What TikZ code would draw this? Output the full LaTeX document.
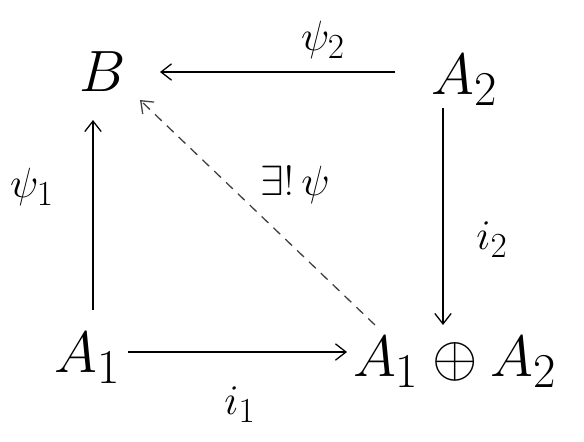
\documentclass[tikz,border=0pt]{standalone}
\usepackage{amsmath,amssymb}
\usetikzlibrary{arrows.meta}
\begin{document}
\begin{tikzpicture}[x=0.03cm,y=-0.03cm,
  obj/.style={inner sep=0pt,font=\Huge,scale=2.0,transform shape},
  lab/.style={inner sep=0pt,font=\Huge,scale=1.45,transform shape},
  arr/.style={line width=1.1pt,-{Straight Barb[length=9pt,width=14pt]}},
  darr/.style={arr,dash pattern=on 8pt off 6pt,draw=black!75}]
\useasboundingbox (0,0) rectangle (584,441);
\node[obj] (B) at (103,72) {$B$};
\node[obj] (A2) at (465,80) {$A_2$};
\node[obj] (A1) at (88,358) {$A_1$};
\node[obj] (S) at (455,362) {$A_1\oplus A_2$};
\coordinate (Btop) at (160,72);
\coordinate (A2l) at (395,72);
\coordinate (A1t) at (93,310);
\coordinate (Bb) at (93,120);
\coordinate (A1r) at (128,352);
\coordinate (Sl) at (347,352);
\coordinate (A2b) at (443,108);
\coordinate (St) at (443,325);
\coordinate (Sd) at (375,325);
\coordinate (Bd) at (140,100);
\draw[arr] (A2l) -- (Btop);
\draw[arr] (A1t) -- (Bb);
\draw[arr] (A1r) -- (Sl);
\draw[arr] (A2b) -- (St);
\draw[darr] (Sd) -- (Bd);
\node[lab] (p2) at (323,40) {$\psi_2$};
\node[lab] (p1) at (32,187) {$\psi_1$};
\node[lab] (i2) at (492,240) {$i_2$};
\node[lab] (i1) at (240,405) {$i_1$};
\node[lab] (ex) at (295,185) {$\exists!\,\psi$};
\end{tikzpicture}
\end{document}
